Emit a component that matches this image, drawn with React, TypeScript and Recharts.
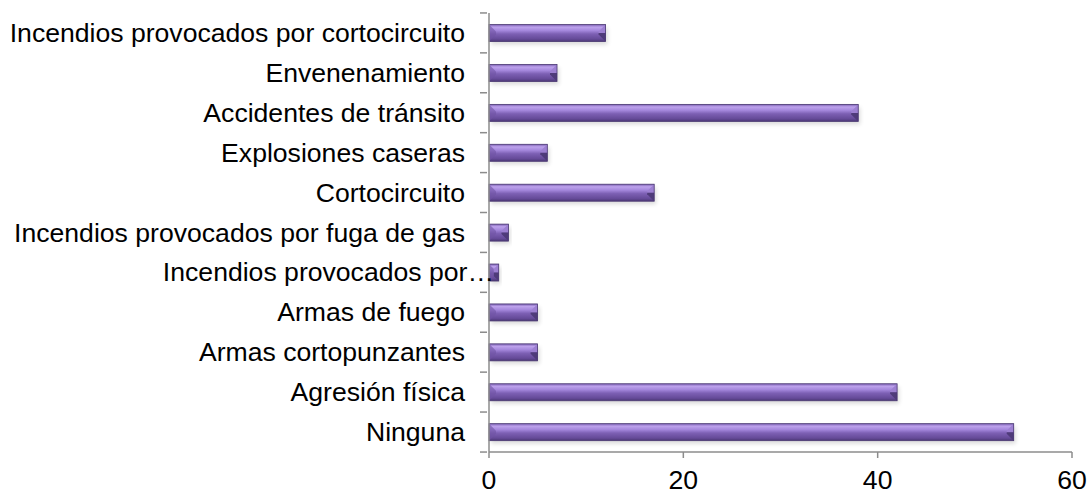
import { BarChart, Bar, XAxis, YAxis, ResponsiveContainer } from 'recharts';

const categories = [
  'Ninguna',
  'Agresión física',
  'Armas cortopunzantes',
  'Armas de fuego',
  'Incendios provocados por…',
  'Incendios provocados por fuga de gas',
  'Cortocircuito',
  'Explosiones caseras',
  'Accidentes de tránsito',
  'Envenenamiento',
  'Incendios provocados por cortocircuito',
];
const values = [54, 42, 5, 5, 1, 2, 17, 6, 38, 7, 12];
const xTicks = [0, 20, 40, 60];

const data = categories.map((name, i) => ({ name, value: values[i] }));

const AXIS = '#8c8c8c';
const FONT = 'Arial, "Liberation Sans", sans-serif';
const BAND = 40;

function YTick({ x, y, payload, index }: any) {
  const label: string = payload.value;
  // the truncated label in the original runs up to the axis
  const shift = label.endsWith('…') ? 29 : 0;
  return (
    <g>
      <line x1={x - 7} x2={x} y1={y - BAND / 2} y2={y - BAND / 2} stroke={AXIS} strokeWidth={1.5} />
      {index === 0 && <line x1={x - 7} x2={x} y1={y + BAND / 2} y2={y + BAND / 2} stroke={AXIS} strokeWidth={1.5} />}
      <text x={x - 22 + shift} y={y} dy={9} textAnchor="end" fontSize={26.6} fontFamily={FONT} fill="#000">
        {label}
      </text>
    </g>
  );
}

function XTick({ x, y, payload }: any) {
  return (
    <text x={x} y={y} dy={29} textAnchor="middle" fontSize={26.6} fontFamily={FONT} fill="#000">
      {payload.value}
    </text>
  );
}

function BevelBar({ x, y, width, height }: any) {
  if (!width || width <= 0) return null;
  const b = Math.min(7, width / 2, height / 2);
  const r = x + width;
  return (
    <g>
      <rect x={x + 2} y={y + 3} width={width} height={height} fill="#000" opacity={0.14} filter="url(#barShadow)" />
      <rect x={x} y={y} width={width} height={height} fill="url(#barGrad)" />
      <polygon points={`${x},${y} ${x + b},${y + b} ${x + b},${y + height - b} ${x},${y + height}`} fill="#6f54a3" opacity={0.6} />
      <polygon points={`${r},${y} ${r - b},${y + b} ${r - b},${y + height / 2} ${r},${y + height / 2}`} fill="#9d80d2" />
      <polygon points={`${r},${y + height / 2} ${r - b},${y + height / 2} ${r - b},${y + height - b} ${r},${y + height}`} fill="#4f3b7a" />
      <rect x={x} y={y} width={width} height={height} fill="none" stroke="#4a3872" strokeWidth={0.8} />
    </g>
  );
}

export default function App() {
  return (
    <div style={{ position: 'absolute', left: 0, top: 0, width: 1089, height: 494, background: '#fff' }}>
      <ResponsiveContainer width={1089} height={494}>
        <BarChart
          data={data}
          layout="vertical"
          margin={{ top: 13, right: 17, bottom: 0, left: 0 }}
          barCategoryGap="29%"
        >
          <defs>
            <linearGradient id="barGrad" x1="0" y1="0" x2="0" y2="1">
              <stop offset="0%" stopColor="#7b5fb2" />
              <stop offset="15%" stopColor="#bda2ec" />
              <stop offset="35%" stopColor="#a487dc" />
              <stop offset="55%" stopColor="#7d60b4" />
              <stop offset="85%" stopColor="#654a98" />
              <stop offset="100%" stopColor="#4b3874" />
            </linearGradient>
            <filter id="barShadow" x="-5%" y="-50%" width="110%" height="200%">
              <feGaussianBlur stdDeviation="2" />
            </filter>
          </defs>
          <XAxis
            type="number"
            domain={[0, 60]}
            ticks={xTicks}
            height={42}
            axisLine={{ stroke: AXIS, strokeWidth: 1.5 }}
            tickLine={{ stroke: AXIS, strokeWidth: 1.5 }}
            tickSize={6}
            tick={<XTick />}
          />
          <YAxis
            type="category"
            dataKey="name"
            reversed
            width={489}
            interval={0}
            axisLine={{ stroke: AXIS, strokeWidth: 1.5 }}
            tickLine={false}
            tickSize={0}
            tick={<YTick />}
          />
          <Bar dataKey="value" isAnimationActive={false} shape={<BevelBar />} />
        </BarChart>
      </ResponsiveContainer>
    </div>
  );
}
